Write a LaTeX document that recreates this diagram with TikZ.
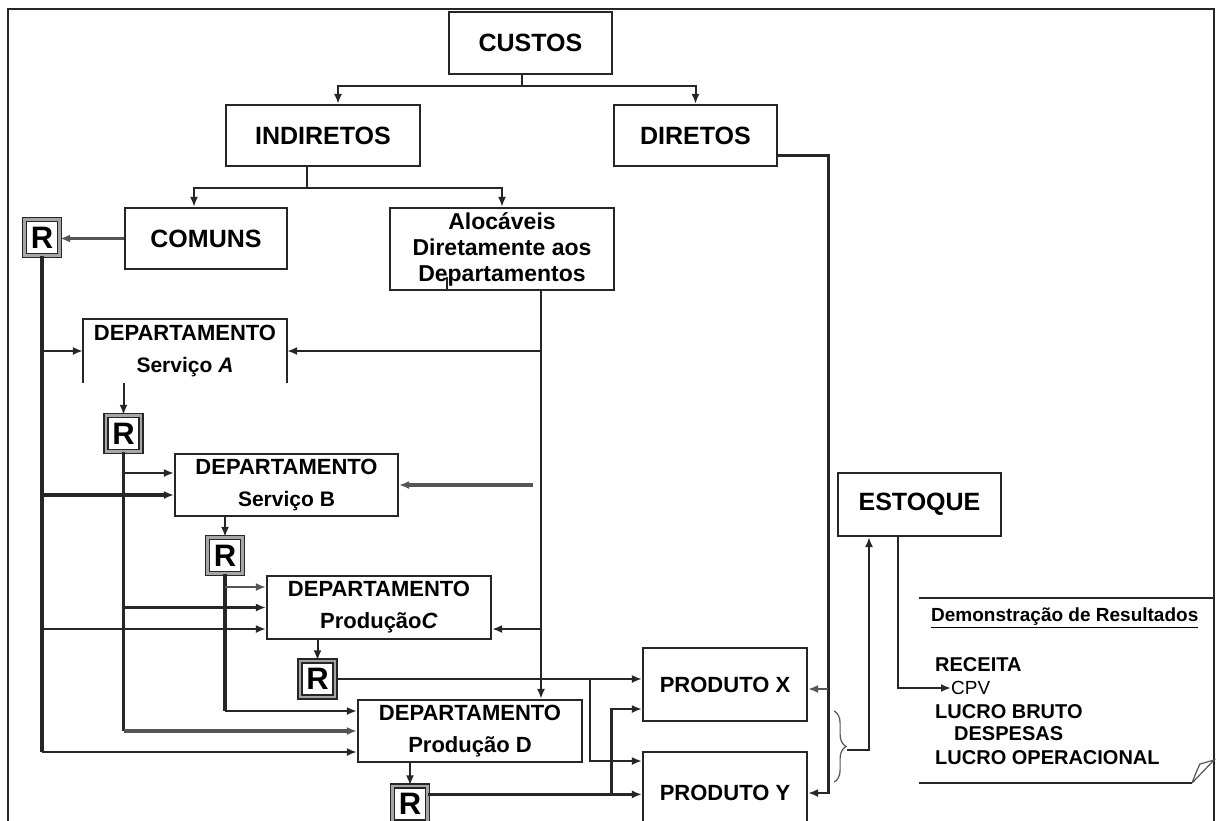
\documentclass[tikz,border=0pt]{standalone}
\usepackage{fontspec}
\setmainfont{Liberation Sans}
\usetikzlibrary{arrows.meta,calc,decorations.pathreplacing}
\definecolor{bc}{HTML}{262626}
\definecolor{gl}{HTML}{555555}
\begin{document}
\begin{tikzpicture}[x=1pt,y=-1pt,
  box/.style={draw=bc,line width=2.2pt,fill=white,inner sep=0pt,align=center,
    font=\bfseries\fontsize{25}{27}\selectfont},
  dept/.style={box,font=\bfseries\fontsize{22}{32}\selectfont},
  rbox/.style={draw=bc,line width=1.3pt,double=gray!70,double distance=2.6pt,fill=white,
    inner sep=0pt,minimum width=35pt,minimum height=36pt,font=\bfseries\fontsize{31}{31}\selectfont},
  ln/.style={draw=bc,line width=2pt},
  ln2/.style={draw=bc,line width=2.8pt},
  ln3/.style={draw=bc,line width=3.5pt},
  arr/.style={-{Latex[length=10pt,width=8pt]}},
  doc/.style={inner sep=0pt,anchor=west}]
\path[use as bounding box] (0,0) rectangle (1217,820);
\fill[white] (0,0) rectangle (1217,820);
% frame
\draw[bc,line width=2.2pt] (8,840) -- (8,9) -- (1214,9) -- (1214,840);

% nodes
\node[box,minimum width=163pt,minimum height=62pt] (custos) at (530.5,43) {CUSTOS};
\node[box,minimum width=194pt,minimum height=61pt] (indiretos) at (323,135.5) {INDIRETOS};
\node[box,minimum width=163pt,minimum height=61pt] (diretos) at (695.5,135.5) {DIRETOS};
\node[box,minimum width=162pt,minimum height=61pt] (comuns) at (206,238.5) {COMUNS};
\node[box,minimum width=224pt,minimum height=82pt,font=\bfseries\fontsize{23}{26}\selectfont] (aloc) at (502,249)
  {Alocáveis\\Diretamente aos\\Departamentos};
\node[dept,draw=none,minimum width=202pt,minimum height=62pt] (depA) at (185,351)
  {DEPARTAMENTO\\{\fontsize{21}{32}\selectfont Serviço \textit{A}}};
\draw[bc,line width=1.8pt] (depA.south west) -- (depA.north west) -- (depA.north east) -- (depA.south east);
\node[dept,minimum width=223pt,minimum height=62pt] (depB) at (286.5,485)
  {DEPARTAMENTO\\{\fontsize{21}{32}\selectfont Serviço B}};
\node[dept,minimum width=224pt,minimum height=63pt] (depC) at (379,607.5)
  {DEPARTAMENTO\\Produção\textit{C}};
\node[dept,minimum width=224pt,minimum height=62pt] (depD) at (470,731)
  {DEPARTAMENTO\\Produção D};
\node[rbox] (r1) at (42,237.5) {R};
\node[rbox] (r2) at (123.5,433.5) {R};
\node[rbox] (r3) at (225,555.5) {R};
\node[rbox] (r4) at (317.5,679) {R};
\node[rbox] (r5) at (410,804) {R};
\node[box,minimum width=164pt,minimum height=73pt,font=\bfseries\fontsize{22}{26}\selectfont] (prodX) at (725,684.5) {PRODUTO X};
\node[box,minimum width=164pt,minimum height=82pt,font=\bfseries\fontsize{22}{26}\selectfont] (prodY) at (725,793) {PRODUTO Y};
\node[box,minimum width=163pt,minimum height=63pt] (estoque) at (919.5,504.5) {ESTOQUE};

% document shape
\draw[bc,line width=1.8pt] (919,598) -- (1214,598) -- (1214,760);
\draw[bc,line width=1.8pt] (919,783) -- (1192,783);
\draw[gl,line width=1.2pt] (1192,783) -- (1214,760) -- (1200,764) .. controls (1197,770) .. (1192,783);
\node[doc,font=\bfseries\fontsize{19}{19}\selectfont] (dem) at (931,618) {\underline{Demonstração de Resultados}};
\node[doc,font=\bfseries\fontsize{20}{20}\selectfont] (rec) at (935,665) {RECEITA};
\node[doc,font=\fontsize{19}{19}\selectfont] (cpv) at (951,688) {CPV};
\node[doc,font=\bfseries\fontsize{20}{20}\selectfont] (lb) at (935,712) {LUCRO BRUTO};
\node[doc,font=\bfseries\fontsize{20}{20}\selectfont] (desp) at (954,734) {DESPESAS};
\node[doc,font=\bfseries\fontsize{20}{20}\selectfont] (lo) at (935,758) {LUCRO OPERACIONAL};

% CUSTOS branches
\draw[ln] ($(custos.south)+(-9,0)$) -- ++(0,11) coordinate (cj);
\draw[ln,arr] (cj) -| ($(indiretos.north)+(15,0)$);
\draw[ln,arr] (cj) -| (diretos.north);
% INDIRETOS branches
\draw[ln] ($(indiretos.south)+(-16,0)$) -- ++(0,21) coordinate (ij);
\draw[ln,arr] (ij) -| ($(comuns.north)+(-12,0)$);
\draw[ln,arr] (ij) -| (aloc.north);
% DIRETOS to products
\draw[ln2,arr] ($(diretos.east)+(0,20)$) -| ($(prodY.east)+(20,0)$) -- (prodY.east);
\draw[ln2,gl,arr] ($(prodX.east)+(20,4.5)$) -- ($(prodX.east)+(0,4.5)$);
% brace to ESTOQUE
\draw[gl,line width=1.2pt,decorate,decoration={brace,amplitude=12pt}]
  ($(prodX.east)+(26,26.5)$) -- ($(prodY.east)+(26,-11)$);
\coordinate (bt) at (847,750);
\draw[ln2,arr] (bt) -| ($(estoque.south)+(-50.5,0)$);
% ESTOQUE to CPV
\draw[ln,arr] ($(estoque.south)+(-21.5,0)$) |- (cpv.west);

% COMUNS to R1
\draw[ln2,gl,arr] (comuns.west) -- (comuns.west -| r1.east);
% R1 trunk
\draw[bc,line width=4.5pt] (r1.south) -- ($(r1.south |- depD.west)+(0,21)$);
\draw[ln2,arr] ($(r1.south |- depD.west)+(0,21)$) -- ($(depD.west)+(0,21)$);
\draw[ln,arr] (r1.south |- depA.west) -- (depA.west);
\draw[ln3,arr] ($(r1.south |- depB.west)+(0,10)$) -- ($(depB.west)+(0,10)$);
\draw[ln,arr] ($(r1.south |- depC.west)+(0,21.5)$) -- ($(depC.west)+(0,21.5)$);

% Alocaveis trunk
\draw[bc,line width=1.2pt] ($(aloc.south)+(-55,-14)$) -- (aloc.south -| 447,0);
\coordinate (at) at ($(aloc.south)+(39,0)$);
\draw[ln2,arr] (at) -- (at |- depD.north);
\draw[ln,arr] (at |- depA.east) -- (depA.east);
\draw[ln,arr] ($(at |- depC.east)+(0,21.5)$) -- ($(depC.east)+(0,21.5)$);
\draw[ln3,gl,arr] ($(depB.east)+(134,0)$) -- (depB.east);

% Serviço A to R2
\draw[ln,arr] (r2.north |- depA.south) -- (r2.north);
% R2 trunk
\draw[bc,line width=3.5pt] (r2.south) -- (r2.south |- depD.west);
\draw[ln3,gl,arr] (r2.south |- depD.west) -- (depD.west);
\draw[ln,arr] ($(r2.south |- depB.west)+(0,-12)$) -- ($(depB.west)+(0,-12)$);
\draw[ln3,arr] (r2.south |- depC.west) -- (depC.west);

% Serviço B to R3
\draw[ln,arr] (r3.north |- depB.south) -- (r3.north);
% R3 trunk
\draw[bc,line width=3.5pt] (r3.south) -- ($(r3.south |- depD.west)+(0,-20)$);
\draw[ln,arr] ($(r3.south |- depD.west)+(0,-20)$) -- ($(depD.west)+(0,-20)$);
\draw[ln,gl,arr] ($(r3.south |- depC.west)+(0,-20.5)$) -- ($(depC.west)+(0,-20.5)$);

% Produção C to R4
\draw[ln,arr] (r4.north |- depC.south) -- (r4.north);
\draw[ln2,arr] (r4.east) -- (r4.east -| prodX.west);
\path (r4.east) -- ++(254,0) coordinate (j4);
\draw[ln,arr] (j4) |- ($(prodY.west)+(0,-32)$);

% Produção D to R5
\draw[ln,arr] (r5.north |- depD.south) -- (r5.north);
\coordinate (r5o) at ($(r5.north east)+(0,9)$);
\draw[ln2,arr] (r5o) -- (r5o -| prodY.west);
\path (r5o) -- ++(183,0) coordinate (j5);
\draw[ln2,arr] (j5) |- ($(prodX.west)+(0,24.5)$);
\end{tikzpicture}
\end{document}
